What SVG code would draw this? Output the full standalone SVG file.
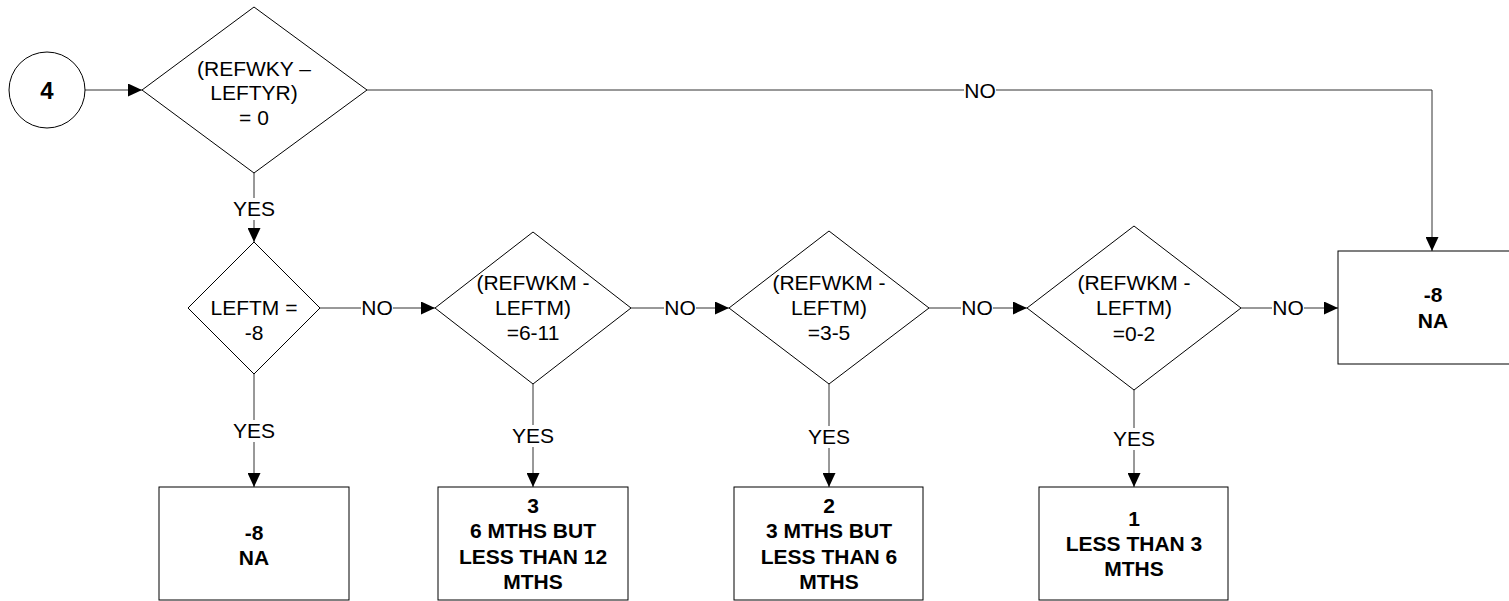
<svg xmlns="http://www.w3.org/2000/svg" width="1509" height="601" viewBox="0 0 1509 601">
<style>
.shape{fill:#fff;stroke:#000;stroke-width:1}
.conn{fill:none;stroke:#333;stroke-width:1}
.t{font-family:"Liberation Sans",Arial,sans-serif;font-size:21px;text-anchor:middle;fill:#000}
.b{font-weight:bold}
.bg{fill:#fff;stroke:none}
</style>
<defs>
<marker id="arr" markerWidth="14" markerHeight="13" refX="14" refY="6.5" orient="auto" markerUnits="userSpaceOnUse">
<path d="M0,0 L14,6.5 L0,13 Z" fill="#000"/>
</marker>
</defs>
<rect width="1509" height="601" fill="#fff"/>
<g id="connectors">
<path class="conn" d="M85,90 H142" marker-end="url(#arr)"/>
<path class="conn" d="M367,90 H1432 V251" marker-end="url(#arr)"/>
<path class="conn" d="M254,173 V242" marker-end="url(#arr)"/>
<path class="conn" d="M320,308 H435" marker-end="url(#arr)"/>
<path class="conn" d="M631,308 H729" marker-end="url(#arr)"/>
<path class="conn" d="M929,308 H1027" marker-end="url(#arr)"/>
<path class="conn" d="M1241,308 H1338" marker-end="url(#arr)"/>
<path class="conn" d="M254,374 V487" marker-end="url(#arr)"/>
<path class="conn" d="M533,384 V487" marker-end="url(#arr)"/>
<path class="conn" d="M829,384 V487" marker-end="url(#arr)"/>
<path class="conn" d="M1134,390 V487" marker-end="url(#arr)"/>
<rect class="bg" x="964" y="81" width="32" height="20"/>
<text class="t" x="980" y="98">NO</text>
<rect class="bg" x="233" y="198" width="42" height="22"/>
<text class="t" x="254" y="216">YES</text>
<rect class="bg" x="361" y="298" width="32" height="20"/>
<text class="t" x="377" y="315">NO</text>
<rect class="bg" x="664" y="298" width="32" height="20"/>
<text class="t" x="680" y="315">NO</text>
<rect class="bg" x="961" y="298" width="32" height="20"/>
<text class="t" x="977" y="315">NO</text>
<rect class="bg" x="1272" y="298" width="32" height="20"/>
<text class="t" x="1288" y="315">NO</text>
<rect class="bg" x="233" y="420" width="42" height="22"/>
<text class="t" x="254" y="438">YES</text>
<rect class="bg" x="512" y="425" width="42" height="22"/>
<text class="t" x="533" y="443">YES</text>
<rect class="bg" x="808" y="426" width="42" height="22"/>
<text class="t" x="829" y="444">YES</text>
<rect class="bg" x="1113" y="428" width="42" height="22"/>
<text class="t" x="1134" y="446">YES</text>
</g>
<g id="start">
<circle class="shape" cx="47" cy="90" r="38"/>
<text class="t b" x="47" y="99" style="font-size:24px">4</text>
</g>
<g id="d1">
<polygon class="shape" points="254,7 367,90 254,173 142,90"/>
<text class="t" x="254" y="76">(REFWKY –</text>
<text class="t" x="254" y="100">LEFTYR)</text>
<text class="t" x="254" y="125">= 0</text>
</g>
<g id="d2">
<polygon class="shape" points="254,242 320,308 254,374 188,308"/>
<text class="t" x="254" y="315">LEFTM =</text>
<text class="t" x="254" y="340">-8</text>
</g>
<g id="d3">
<polygon class="shape" points="533,232 631,308 533,384 435,308"/>
<text class="t" x="533" y="290">(REFWKM -</text>
<text class="t" x="533" y="315">LEFTM)</text>
<text class="t" x="533" y="340">=6-11</text>
</g>
<g id="d4">
<polygon class="shape" points="829,231 929,308 829,384 729,308"/>
<text class="t" x="829" y="290">(REFWKM -</text>
<text class="t" x="829" y="315">LEFTM)</text>
<text class="t" x="829" y="340">=3-5</text>
</g>
<g id="d5">
<polygon class="shape" points="1134,226 1241,308 1134,390 1027,308"/>
<text class="t" x="1134" y="290">(REFWKM -</text>
<text class="t" x="1134" y="315">LEFTM)</text>
<text class="t" x="1134" y="341">=0-2</text>
</g>
<g id="na-right">
<rect class="shape" x="1338" y="251" width="190" height="113"/>
<text class="t b" x="1433" y="302">-8</text>
<text class="t b" x="1433" y="328">NA</text>
</g>
<g id="na-bottom">
<rect class="shape" x="159" y="487" width="190" height="113"/>
<text class="t b" x="254" y="540">-8</text>
<text class="t b" x="254" y="565">NA</text>
</g>
<g id="r3">
<rect class="shape" x="438" y="487" width="190" height="113"/>
<text class="t b" x="533" y="513">3</text>
<text class="t b" x="533" y="538">6 MTHS BUT</text>
<text class="t b" x="533" y="564">LESS THAN 12</text>
<text class="t b" x="533" y="589">MTHS</text>
</g>
<g id="r2">
<rect class="shape" x="734" y="487" width="189" height="113"/>
<text class="t b" x="829" y="513">2</text>
<text class="t b" x="829" y="538">3 MTHS BUT</text>
<text class="t b" x="829" y="564">LESS THAN 6</text>
<text class="t b" x="829" y="589">MTHS</text>
</g>
<g id="r1">
<rect class="shape" x="1039" y="487" width="189" height="113"/>
<text class="t b" x="1134" y="526">1</text>
<text class="t b" x="1134" y="551">LESS THAN 3</text>
<text class="t b" x="1134" y="576">MTHS</text>
</g>
</svg>
